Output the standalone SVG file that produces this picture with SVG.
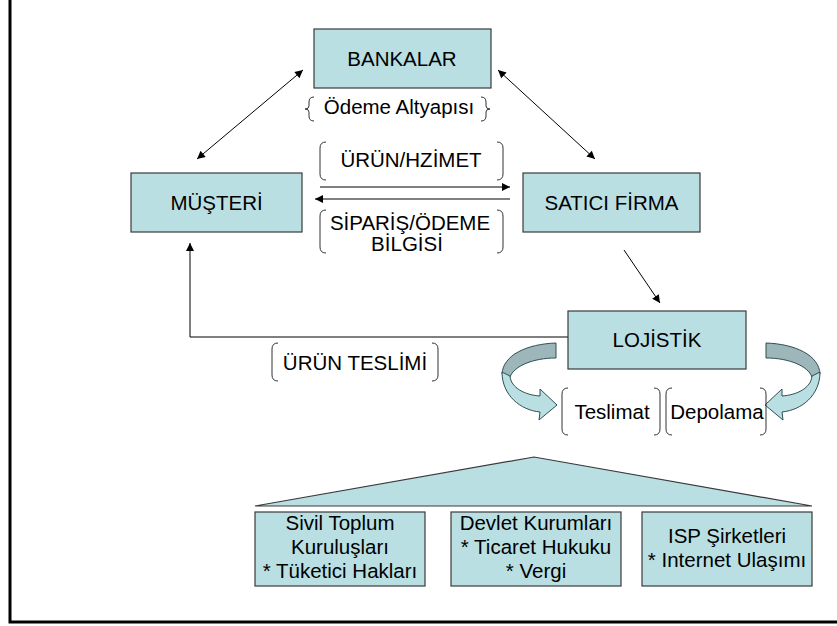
<svg xmlns="http://www.w3.org/2000/svg" width="837" height="626" viewBox="0 0 837 626">
<defs>
<style>
.box{fill:#b9dfe3;stroke:#3a3a3a;stroke-width:1.2}
.t{font-family:"Liberation Sans",Arial,sans-serif;font-size:20.5px;fill:#000;text-anchor:middle}
.br{fill:none;stroke:#333;stroke-width:1}
.ln{fill:none;stroke:#000;stroke-width:1}
.dk{fill:#9cb6b9;stroke:#2f4f52;stroke-width:1}
.lt{fill:#b9dfe3;stroke:#2f4f52;stroke-width:1}
</style>
<marker id="ah" viewBox="0 0 10 10" refX="10" refY="5" markerWidth="10" markerHeight="8" markerUnits="userSpaceOnUse" orient="auto-start-reverse">
<path d="M0,0 L10,5 L0,10 z" fill="#000"/>
</marker>
</defs>
<rect width="837" height="626" fill="#fff"/>
<g id="frame">
<path d="M10,0 V622 H837" fill="none" stroke="#000" stroke-width="3"/>
</g>

<g id="connectors">
<line class="ln" x1="303" y1="70" x2="197" y2="159" marker-start="url(#ah)" marker-end="url(#ah)"/>
<line class="ln" x1="498" y1="70" x2="595" y2="159" marker-start="url(#ah)" marker-end="url(#ah)"/>
<line class="ln" x1="320" y1="187" x2="510" y2="187" stroke-width="1.3" marker-end="url(#ah)"/>
<line class="ln" x1="510" y1="199" x2="315" y2="199" stroke="#555" stroke-width="1.3" marker-end="url(#ah)"/>
<line class="ln" x1="624" y1="250" x2="660" y2="303" marker-end="url(#ah)"/>
<path class="ln" d="M568,337 H190 V243" stroke="#555" stroke-width="1.5" marker-end="url(#ah)"/>
</g>

<g id="bankalar">
<rect class="box" x="314" y="29" width="177" height="59"/>
<text class="t" x="402" y="66">BANKALAR</text>
</g>
<g id="odeme">
<path class="br" d="M314,97 Q309,97 309,102 V106 Q309,109 305,109 Q309,109 309,112 V116 Q309,121 314,121"/>
<path class="br" d="M481,97 Q486,97 486,102 V106 Q486,109 490,109 Q486,109 486,112 V116 Q486,121 481,121"/>
<text class="t" x="399" y="114">Ödeme Altyapısı</text>
</g>
<g id="musteri">
<rect class="box" x="131" y="173" width="171" height="59"/>
<text class="t" x="216.5" y="210">MÜŞTERİ</text>
</g>
<g id="satici">
<rect class="box" x="523" y="173" width="177" height="59"/>
<text class="t" x="611.5" y="210">SATICI FİRMA</text>
</g>
<g id="urun">
<path class="br" d="M326,142 Q320,142 320,148 V174 Q320,180 326,180"/>
<path class="br" d="M497,142 Q503,142 503,148 V174 Q503,180 497,180"/>
<text class="t" x="411" y="167">ÜRÜN/HZİMET</text>
</g>
<g id="siparis">
<path class="br" d="M326,210 Q320,210 320,216 V247 Q320,253 326,253"/>
<path class="br" d="M497,210 Q503,210 503,216 V247 Q503,253 497,253"/>
<text class="t" x="410" y="230">SİPARİŞ/ÖDEME</text>
<text class="t" x="407" y="251">BİLGİSİ</text>
</g>
<g id="lojistik">
<rect class="box" x="568" y="311" width="178" height="58"/>
<text class="t" x="657" y="347">LOJİSTİK</text>
</g>
<g id="urunteslimi">
<path class="br" d="M278,343 Q272,343 272,349 V375 Q272,381 278,381"/>
<path class="br" d="M432,343 Q438,343 438,349 V375 Q438,381 432,381"/>
<text class="t" x="355" y="370">ÜRÜN TESLİMİ</text>
</g>
<g id="curved-arrows">
<g id="arrow-left">
<path class="dk" d="M556,343 C527,344 503,355 502,374 L510,377 C514,366 533,358 556,358 Z"/>
<path class="lt" d="M502,372 C502,395 520,410 540,412 L539,420 L557,405 L540,389 L540,396 C525,395 511,388 510,376 Z"/>
</g>
<g id="arrow-right" transform="translate(1322,0) scale(-1,1)">
<path class="dk" d="M556,343 C527,344 503,355 502,374 L510,377 C514,366 533,358 556,358 Z"/>
<path class="lt" d="M502,372 C502,395 520,410 540,412 L539,420 L557,405 L540,389 L540,396 C525,395 511,388 510,376 Z"/>
</g>
</g>
<g id="teslimat">
<path class="br" d="M568,388 Q562,388 562,394 V429 Q562,435 568,435"/>
<path class="br" d="M654,388 Q660,388 660,394 V429 Q660,435 654,435"/>
<text class="t" x="612" y="419">Teslimat</text>
</g>
<g id="depolama">
<path class="br" d="M672,388 Q666,388 666,394 V429 Q666,435 672,435"/>
<path class="br" d="M760,388 Q766,388 766,394 V429 Q766,435 760,435"/>
<text class="t" x="717" y="419">Depolama</text>
</g>
<g id="roof">
<path d="M255,506 L534,457 L812,506 Z" fill="#b9dfe3" stroke="#3a3a3a" stroke-width="1.2"/>
</g>
<g id="sivil">
<rect class="box" x="255" y="512" width="170" height="74"/>
<text class="t" x="340" y="530">Sivil Toplum</text>
<text class="t" x="340" y="554">Kuruluşları</text>
<text class="t" x="340" y="578">* Tüketici Hakları</text>
</g>
<g id="devlet">
<rect class="box" x="451" y="512" width="170" height="74"/>
<text class="t" x="536" y="530">Devlet Kurumları</text>
<text class="t" x="536" y="554">* Ticaret Hukuku</text>
<text class="t" x="536" y="578">* Vergi</text>
</g>
<g id="isp">
<rect class="box" x="642" y="512" width="170" height="74"/>
<text class="t" x="727" y="543">ISP Şirketleri</text>
<text class="t" x="727" y="567">* Internet Ulaşımı</text>
</g>
</svg>
